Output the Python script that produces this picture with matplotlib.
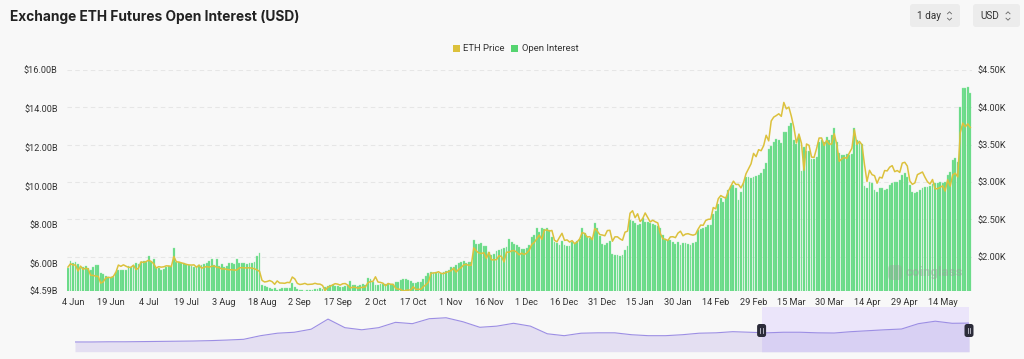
import matplotlib
matplotlib.use("Agg")
import matplotlib.pyplot as plt
import numpy as np
import pandas as pd
from matplotlib.patches import FancyBboxPatch, Rectangle
from matplotlib.transforms import blended_transform_factory

# ---------------- data ----------------
start_date = "2023-06-02"

# Exchange ETH futures open interest, billions USD (one value per day)
oi_billions = [
    # Jun
    5.76, 6.14, 6.05, 6.07, 5.98, 5.80, 5.85, 5.88, 5.80, 5.67, 5.82, 5.93, 5.95, 5.54, 5.45,
    5.38, 5.33, 5.33, 5.30, 5.59, 5.67, 5.65, 5.65, 5.67, 5.88, 5.85, 5.93, 6.02, 5.98,
    # Jul
    6.07, 6.14, 6.10, 6.40, 6.10, 6.24, 5.76, 5.76, 5.70, 5.72, 5.85, 5.90, 5.88, 6.80, 6.10,
    6.07, 6.02, 6.02, 5.97, 5.93, 5.90, 5.82, 5.86, 5.93, 5.93, 6.00, 6.05, 6.15, 6.22, 5.93, 6.22,
    # Aug
    5.90, 5.97, 5.85, 5.90, 6.02, 6.02, 5.97, 6.24, 6.02, 6.02, 6.02, 5.97, 6.02, 6.02, 6.07,
    6.40, 6.53, 4.90, 4.86, 4.81, 4.72, 4.69, 4.72, 4.64, 4.69, 4.72, 4.72, 4.76, 4.72, 5.00, 4.81,
    # Sep
    4.70, 4.65, 4.62, 4.60, 4.62, 4.65, 4.65, 4.70, 4.70, 4.72, 4.70, 4.78, 4.86, 4.90, 4.90,
    4.86, 4.83, 4.81, 4.78, 4.86, 4.90, 5.12, 4.90, 4.90, 4.86, 4.90, 4.93, 4.90, 5.28, 5.20,
    # Oct
    5.07, 4.90, 4.90, 4.93, 4.97, 4.93, 4.93, 4.97, 4.93, 5.05, 5.07, 5.16, 5.20, 5.20, 5.16,
    5.12, 5.00, 5.00, 5.03, 5.07, 5.20, 5.38, 5.50, 5.59, 5.50, 5.55, 5.50, 5.50, 5.55, 5.62, 5.67,
    # Nov
    5.82, 5.85, 5.93, 6.02, 6.10, 6.14, 6.02, 6.07, 6.10, 7.20, 7.02, 7.02, 7.05, 6.93, 6.90,
    6.60, 6.45, 6.50, 6.65, 6.70, 6.75, 6.80, 6.85, 7.30, 7.10, 7.02, 6.98, 6.86, 6.77, 6.77,
    # Dec
    6.80, 6.98, 7.40, 7.50, 7.86, 7.65, 7.82, 7.78, 7.82, 7.74, 7.40, 7.14, 7.05, 6.98, 7.15,
    6.95, 6.92, 6.92, 7.10, 7.05, 7.15, 7.25, 7.82, 7.60, 7.40, 7.35, 7.32, 8.10, 7.82, 7.45, 7.00,
    # Jan
    6.98, 7.05, 7.15, 6.50, 6.47, 6.47, 6.42, 6.45, 6.72, 6.93, 8.28, 8.20, 8.10, 8.02, 8.05,
    8.36, 8.15, 8.15, 8.10, 8.07, 7.98, 7.95, 7.82, 7.47, 7.22, 7.22, 7.20, 7.14, 7.02, 7.14, 6.98,
    # Feb
    7.05, 7.05, 7.02, 6.98, 7.05, 7.10, 7.74, 7.78, 7.86, 7.90, 7.98, 8.00, 8.55, 8.72, 9.10,
    9.37, 9.20, 9.46, 9.80, 10.03, 10.06, 9.90, 9.28, 9.72, 10.23, 10.50, 10.50, 10.40, 10.50,
    # Mar
    10.55, 10.58, 10.66, 10.90, 11.18, 11.90, 12.08, 12.30, 12.42, 12.40, 12.25, 12.80, 12.80, 13.10, 13.25,
    12.40, 12.20, 12.55, 10.80, 12.00, 11.80, 11.80, 11.40, 11.40, 11.50, 12.30, 12.40, 12.30, 12.56, 12.40, 12.65,
    # Apr
    13.00, 12.30, 11.70, 11.60, 11.60, 11.65, 11.62, 11.65, 13.00, 12.40, 12.25, 12.20, 10.00, 9.90, 10.23,
    10.15, 9.80, 9.72, 9.90, 9.90, 9.80, 9.85, 10.06, 10.15, 10.23, 10.23, 10.30, 10.58, 10.66, 10.50,
    # May
    10.06, 9.72, 9.63, 9.72, 9.80, 9.90, 9.98, 9.98, 10.03, 10.10, 10.15, 10.15, 10.23, 10.15, 10.23,
    10.58, 10.75, 11.35, 11.44, 11.27, 14.10, 15.05, 15.09, 15.10, 14.80,
]

# ETH price, USD (one value per day)
eth_price = [
    # Jun
    1863, 1907, 1892, 1891, 1811, 1876, 1832, 1848, 1839, 1753, 1752, 1742, 1739, 1649, 1666,
    1718, 1726, 1721, 1738, 1792, 1890, 1873, 1893, 1875, 1860, 1860, 1888, 1830, 1850, 1933,
    # Jul
    1925, 1937, 1955, 1938, 1910, 1850, 1869, 1862, 1867, 1880, 1878, 1870, 2005, 1934, 1930,
    1920, 1910, 1898, 1892, 1890, 1893, 1860, 1890, 1848, 1860, 1870, 1862, 1873, 1879, 1860, 1857,
    # Aug
    1837, 1840, 1833, 1826, 1828, 1822, 1824, 1853, 1856, 1852, 1852, 1853, 1849, 1840, 1825,
    1806, 1685, 1664, 1670, 1683, 1668, 1633, 1678, 1650, 1649, 1646, 1658, 1655, 1730, 1705, 1645,
    # Sep
    1630, 1635, 1645, 1630, 1633, 1635, 1646, 1636, 1635, 1617, 1550, 1592, 1605, 1625, 1641,
    1635, 1622, 1640, 1643, 1622, 1584, 1594, 1593, 1580, 1588, 1593, 1597, 1653, 1670, 1671,
    # Oct
    1733, 1663, 1658, 1647, 1612, 1644, 1633, 1632, 1580, 1568, 1565, 1539, 1552, 1556, 1557,
    1600, 1566, 1566, 1566, 1601, 1628, 1660, 1780, 1785, 1787, 1801, 1778, 1776, 1792, 1802, 1815,
    # Nov
    1847, 1797, 1832, 1856, 1893, 1899, 1886, 1888, 2121, 2079, 2052, 2045, 2055, 1980, 2060,
    1960, 1960, 1963, 2015, 2005, 1933, 2063, 2062, 2081, 2084, 2063, 2027, 2050, 2030, 2051,
    # Dec
    2088, 2166, 2193, 2243, 2292, 2234, 2357, 2360, 2345, 2353, 2223, 2201, 2261, 2315, 2220,
    2227, 2198, 2217, 2175, 2200, 2239, 2325, 2312, 2265, 2271, 2230, 2379, 2345, 2298, 2292, 2282,
    # Jan
    2352, 2355, 2209, 2268, 2268, 2241, 2222, 2330, 2344, 2584, 2617, 2524, 2576, 2472, 2511,
    2587, 2528, 2467, 2490, 2469, 2454, 2313, 2242, 2235, 2217, 2267, 2269, 2257, 2317, 2343, 2282,
    # Feb
    2304, 2310, 2298, 2290, 2302, 2371, 2425, 2422, 2486, 2502, 2505, 2660, 2642, 2778, 2820,
    2800, 2786, 2880, 2945, 3013, 2968, 2970, 2922, 2991, 3112, 3179, 3245, 3384, 3340,
    # Mar
    3434, 3420, 3488, 3627, 3552, 3818, 3870, 3890, 3914, 3880, 4066, 3980, 4004, 3880, 3730,
    3524, 3643, 3520, 3160, 3510, 3492, 3335, 3330, 3450, 3590, 3590, 3490, 3560, 3508, 3510, 3647,
    # Apr
    3503, 3278, 3311, 3330, 3318, 3391, 3452, 3700, 3505, 3545, 3500, 3235, 3008, 3158, 3100,
    3085, 2985, 3065, 3055, 3155, 3150, 3200, 3220, 3140, 3155, 3130, 3255, 3265, 3215, 3015,
    # May
    2970, 2990, 3100, 3117, 3135, 3065, 3005, 2975, 3035, 2910, 2912, 2930, 2950, 2880, 3030,
    2945, 3095, 3120, 3070, 3660, 3790, 3740, 3780, 3730,
]

# full-history preview shown in the range navigator (billions USD, sampled)
nav_history = [
    5.1, 5.1, 5.2, 5.2, 5.3, 5.4, 5.5, 5.6, 5.8, 6.1, 6.5, 8.4, 9.7, 10.2, 11.8, 17.1, 12.6, 11.5,
    12.6, 15.4, 14.7, 17.3, 17.8, 15.7, 12.8, 13.4, 14.9, 13.4, 9.4, 8.4, 9.7, 9.9, 9.9, 8.9, 8.4,
    8.4, 8.9, 9.7, 9.9, 10.5, 10.2, 9.9, 10.2, 10.2, 9.9, 9.8, 10.5, 11.0, 11.5, 11.9, 14.7, 16.0,
    14.9, 15.0,
]
nav_window = (0.768, 1.0)   # selected part of the navigator (fraction of its width)

oi_ticks = [4.59, 6, 8, 10, 12, 14, 16]
eth_ticks = [2000, 2500, 3000, 3500, 4000, 4500]
series_names = ["ETH Price", "Open Interest"]
title = "Exchange ETH Futures Open Interest (USD)"

assert len(oi_billions) == len(eth_price)
n = len(oi_billions)
dates = pd.date_range(start_date, periods=n, freq="D")
idx = np.arange(n)
tick_idx = list(range(2, n, 15))
tick_lbl = [f"{dates[i].day} {dates[i].strftime('%b')}" for i in tick_idx]

# ---------------- style ----------------
BG = "#f8f8f8"
GREEN = "#62d982"
GOLD = "#dcc13c"
TXT = "#333333"
FONT = ["Roboto", "DejaVu Sans"]
plt.rcParams["font.family"] = FONT

W, H = 1024, 359
fig = plt.figure(figsize=(W / 100, H / 100), dpi=100, facecolor=BG)


def fx(px):
    return px / W


def fy(py):
    return 1 - py / H


L, R, T, B = 66.7, 971.6, 70, 291
ax = fig.add_axes([fx(L), fy(B), fx(R - L), (B - T) / H])
ax.set_facecolor("none")
ax2 = ax.twinx()

ax.bar(idx, oi_billions, width=0.74, color=GREEN, edgecolor="#9be9ae",
       linewidth=0.25, zorder=2, bottom=0)
ax.set_ylim(4.59, 16)
ax.set_xlim(-0.5, n - 0.5)
ax.set_yticks(oi_ticks)
ax.set_yticklabels([f"${v:.2f}B" for v in oi_ticks])
ax.set_xticks(tick_idx)
ax.set_xticklabels(tick_lbl)
ax.tick_params(axis="y", length=0, pad=6.5, labelsize=6.6, labelcolor=TXT)
ax.tick_params(axis="x", length=0, pad=5, labelsize=6.6, labelcolor=TXT)

ax2.plot(idx, eth_price, color=GOLD, lw=1.1, zorder=3)
ax2.set_ylim(1543, 4500)
ax2.set_yticks(eth_ticks)
ax2.set_yticklabels([f"${v/1000:.2f}K" for v in eth_ticks])
ax2.tick_params(axis="y", length=0, pad=4.5, labelsize=6.6, labelcolor=TXT)

for a in (ax, ax2):
    for s in a.spines.values():
        s.set_visible(False)

gtrans = blended_transform_factory(ax.transAxes, ax2.transData)
for v in eth_ticks:
    ax.plot([0, 1], [v, v], transform=gtrans, color="#e6e6e6", lw=0.8,
            ls=(0, (4, 3)), zorder=0)

# ---------------- navigator ----------------
NL, NR, NT, NB = 75, 969, 306.7, 351.7
axn = fig.add_axes([fx(NL), fy(NB), fx(NR - NL), (NB - NT) / H])
axn.set_facecolor("none")
m = len(nav_history)
nx = np.arange(m)
axn.set_xlim(0, m - 1)
axn.set_ylim(0, 23.6)
x0 = nav_window[0] * (m - 1)
x1 = nav_window[1] * (m - 1)
axn.axvspan(x0, x1, color="#ebe5fa", zorder=0, lw=0)
axn.fill_between(nx, nav_history, 0, color="#e4dff2", lw=0, zorder=1)
xs = np.concatenate([[x0], nx[nx > x0]])
ys = np.interp(xs, nx, nav_history)
axn.fill_between(xs, ys, 0, color="#d8d0f3", lw=0, zorder=2)
axn.plot(nx, nav_history, color="#9c8ee4", lw=0.8, zorder=3)
axn.axis("off")

# ---------------- overlay decorations (pixel coordinates) ----------------
ov = fig.add_axes([0, 0, 1, 1], facecolor="none")
ov.set_xlim(0, W)
ov.set_ylim(H, 0)
ov.axis("off")

for hx in (NL + (NR - NL) * nav_window[0], NL + (NR - NL) * nav_window[1]):
    ov.add_patch(FancyBboxPatch((hx - 4.5, 324), 9, 13,
                                boxstyle="round,pad=0,rounding_size=2.5",
                                fc="#2c2c3a", ec="none", zorder=5))
    for dx in (-1.3, 1.3):
        ov.plot([hx + dx, hx + dx], [328, 333], color="#c9c9d6", lw=0.6, zorder=6)

fig.text(fx(10), fy(17), title, fontsize=9.9, fontweight="bold",
         family=["Inter", "DejaVu Sans"], color="#222222", va="center", ha="left")

# legend
leg_items = [(456, GOLD, series_names[0]), (514.5, "#55d470", series_names[1])]
for cx, col, name in leg_items:
    ov.add_patch(Rectangle((cx - 3.5, 44.5), 7, 7, fc=col, ec="none"))
    ov.text(cx + 7, 48.3, name, fontsize=6.8, color=TXT, va="center", ha="left")

# selector buttons
for (bx0, bx1, label, cvx) in [(910, 960, "1 day", 949.5), (973, 1020, "USD", 1008)]:
    ov.add_patch(FancyBboxPatch((bx0, 4), bx1 - bx0, 23,
                                boxstyle="round,pad=0,rounding_size=3",
                                fc="#ececec", ec="none"))
    ov.text(bx0 + 7, 16, label, fontsize=7.2, color=TXT, va="center", ha="left")
    ov.plot([cvx - 2, cvx, cvx + 2], [13.8, 11.8, 13.8], color="#666666", lw=0.6)
    ov.plot([cvx - 2, cvx, cvx + 2], [18.2, 20.2, 18.2], color="#666666", lw=0.6)

# watermark
ov.add_patch(FancyBboxPatch((888, 265), 14, 15, boxstyle="round,pad=0,rounding_size=4",
                            fc="#9a9a9a", ec="none", alpha=0.35, zorder=4))
ov.text(906, 272.5, "coinglass", fontsize=9.5, fontweight="bold", color="#9a9a9a",
        alpha=0.45, va="center", ha="left", zorder=4)

fig.savefig("out.png", dpi=100, facecolor=BG)
